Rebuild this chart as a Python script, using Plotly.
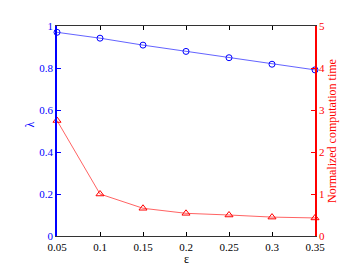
import plotly.graph_objects as go

eps = [0.05, 0.10, 0.15, 0.20, 0.25, 0.30, 0.35]
lam = [0.97, 0.942, 0.909, 0.879, 0.849, 0.818, 0.791]
comp_time = [2.75, 1.0, 0.66, 0.54, 0.50, 0.45, 0.43]

x_ticks = [0.05, 0.1, 0.15, 0.2, 0.25, 0.3, 0.35]
x_ticktext = ['0.05', '0.1', '0.15', '0.2', '0.25', '0.3', '0.35']

font = 'Liberation Serif'
blue = '#0000ff'
red = '#ff0000'

fig = go.Figure()
fig.add_trace(go.Scatter(
    x=eps, y=lam, mode='lines+markers',
    line=dict(color='rgba(60,60,255,0.8)', width=1),
    marker=dict(symbol='circle-open', size=6, color=blue, line=dict(width=1)),
    cliponaxis=False, showlegend=False,
))
fig.add_trace(go.Scatter(
    x=eps, y=comp_time, mode='lines+markers', yaxis='y2',
    line=dict(color='rgba(255,60,60,0.8)', width=1),
    marker=dict(symbol='triangle-up-open', size=7, color=red, line=dict(width=1)),
    cliponaxis=False, showlegend=False,
))

fig.update_layout(
    width=357, height=268,
    margin=dict(l=49, r=50, t=13, b=40),
    plot_bgcolor='white', paper_bgcolor='white',
    font=dict(family=font, size=11),
    xaxis=dict(
        range=[0.05, 0.35], tickvals=x_ticks, ticktext=x_ticktext,
        ticks='inside', ticklen=4, tickcolor='black',
        showline=True, linecolor='#333', linewidth=1, mirror='ticks',
        showgrid=False, zeroline=False, ticklabelstandoff=1,
        tickfont=dict(family=font, color='black', size=11),
    ),
    yaxis=dict(
        range=[0, 1], tickvals=[0, 0.2, 0.4, 0.6, 0.8, 1],
        ticktext=['0', '0.2', '0.4', '0.6', '0.8', '1'],
        ticks='inside', ticklen=4, tickcolor=blue,
        showline=True, linecolor=blue, linewidth=1.5,
        showgrid=False, zeroline=False,
        tickfont=dict(family=font, color=blue, size=11),
    ),
    yaxis2=dict(
        range=[0, 5], tickvals=[0, 1, 2, 3, 4, 5],
        overlaying='y', side='right',
        ticks='inside', ticklen=4, tickcolor=red,
        showline=True, linecolor=red, linewidth=1.5,
        showgrid=False, zeroline=False,
        tickfont=dict(family=font, color=red, size=11),
    ),
    annotations=[
        dict(text='ε', xref='paper', yref='paper', x=0.5, y=-0.108,
             xanchor='center', yanchor='middle', showarrow=False,
             font=dict(family=font, size=12, color='black')),
        dict(text='λ', xref='paper', yref='paper', x=-0.105, y=0.53, textangle=-90,
             xanchor='center', yanchor='middle', showarrow=False,
             font=dict(family=font, size=12, color=blue)),
        dict(text='Normalized computation time', xref='paper', yref='paper',
             x=1.066, y=0.5, textangle=-90,
             xanchor='center', yanchor='middle', showarrow=False,
             font=dict(family=font, size=12, color=red)),
    ],
)

fig.write_html('out.html')
